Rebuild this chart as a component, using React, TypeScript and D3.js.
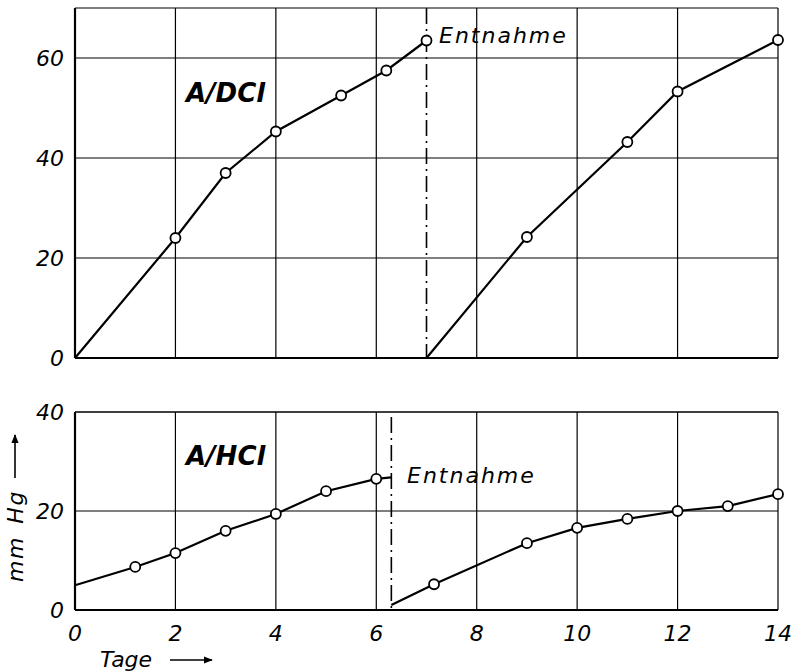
import React from "react";
import * as d3 from "d3";

// ---- data ----
const xTicks = [0, 2, 4, 6, 8, 10, 12, 14];
const topYTicks = [0, 20, 40, 60];
const botYTicks = [0, 20, 40];

// A/DCl (top panel)
const dclBeforeX = [0, 2, 3, 4, 5.3, 6.2, 7];
const dclBeforeY = [0, 24, 37, 45.3, 52.5, 57.5, 63.5];
const dclBeforeMarker = [false, true, true, true, true, true, true];
const dclAfterX = [7, 9, 11, 12, 14];
const dclAfterY = [0, 24.2, 43.2, 53.3, 63.6];
const dclAfterMarker = [false, true, true, true, true];
const dclWithdrawal = 7;

// A/HCl (bottom panel)
const hclBeforeX = [0, 1.2, 2, 3, 4, 5, 6, 6.3];
const hclBeforeY = [5, 8.7, 11.5, 16, 19.4, 24, 26.5, 26.8];
const hclBeforeMarker = [false, true, true, true, true, true, true, false];
const hclAfterX = [6.3, 7.15, 9, 10, 11, 12, 13, 14];
const hclAfterY = [1, 5.2, 13.5, 16.6, 18.4, 20, 21, 23.4];
const hclAfterMarker = [false, true, true, true, true, true, true, true];
const hclWithdrawal = 6.3;

const FONT = "'DejaVu Sans', 'Liberation Sans', sans-serif";

export default function App() {
  const W = 791, H = 672;
  const x = d3.scaleLinear().domain([0, 14]).range([75, 778]);
  const yTop = d3.scaleLinear().domain([0, 70]).range([358, 8]);
  const yBot = d3.scaleLinear().domain([0, 40]).range([610, 412]);

  const line = d3.line<[number, number]>().x((d) => d[0]).y((d) => d[1]);

  const series = (xs: number[], ys: number[], ms: boolean[], ys2: d3.ScaleLinear<number, number>, key: string) => {
    const pts: [number, number][] = xs.map((v, i) => [x(v), ys2(ys[i])]);
    return (
      <g key={key}>
        <path d={line(pts) || ""} fill="none" stroke="#000" strokeWidth={2.2} />
        {pts.map((p, i) =>
          ms[i] ? <circle key={i} cx={p[0]} cy={p[1]} r={5} fill="#fff" stroke="#000" strokeWidth={1.8} /> : null
        )}
      </g>
    );
  };

  const panel = (yS: d3.ScaleLinear<number, number>, yTicks: number[], key: string) => {
    const [y0, y1] = yS.range();
    const [, ymax] = yS.domain();
    return (
      <g key={key}>
        {xTicks.map((t) => (
          <line key={"v" + t} x1={x(t)} x2={x(t)} y1={y0} y2={y1} stroke="#000" strokeWidth={t === 0 ? 2.2 : 1.2} />
        ))}
        {yTicks.map((t) => (
          <line key={"h" + t} x1={x(0)} x2={x(14)} y1={yS(t)} y2={yS(t)} stroke="#000" strokeWidth={t === 0 ? 2.2 : 1.2} />
        ))}
        <line x1={x(0)} x2={x(14)} y1={yS(ymax)} y2={yS(ymax)} stroke="#000" strokeWidth={1.2} />
        {yTicks.map((t) => (
          <text key={"l" + t} x={64} y={yS(t)} dy="0.36em" textAnchor="end" fontFamily={FONT} fontStyle="italic" fontSize={22}>
            {t}
          </text>
        ))}
      </g>
    );
  };

  const dash = "16 5 2 5";

  return (
    <svg width={W} height={H} style={{ position: "absolute", left: 0, top: 0, background: "#fff" }}>
      <rect width={W} height={H} fill="#fff" />
      <defs>
        <marker id="arr" viewBox="0 0 10 10" refX="9" refY="5" markerWidth="9" markerHeight="9" markerUnits="userSpaceOnUse" orient="auto">
          <path d="M0,1 L10,5 L0,9 z" fill="#000" />
        </marker>
      </defs>

      {panel(yTop, topYTicks, "top")}
      {panel(yBot, botYTicks, "bot")}

      {/* withdrawal lines */}
      <line x1={x(dclWithdrawal)} x2={x(dclWithdrawal)} y1={yTop(70)} y2={yTop(0)} stroke="#000" strokeWidth={1.6} strokeDasharray={dash} />
      <line x1={x(hclWithdrawal)} x2={x(hclWithdrawal)} y1={yBot(39)} y2={yBot(0)} stroke="#000" strokeWidth={1.6} strokeDasharray={dash} />

      {series(dclBeforeX, dclBeforeY, dclBeforeMarker, yTop, "d1")}
      {series(dclAfterX, dclAfterY, dclAfterMarker, yTop, "d2")}
      {series(hclBeforeX, hclBeforeY, hclBeforeMarker, yBot, "h1")}
      {series(hclAfterX, hclAfterY, hclAfterMarker, yBot, "h2")}

      {/* labels */}
      <text x={186} y={102} fontFamily={FONT} fontStyle="italic" fontWeight="bold" fontSize={26}>A/DCl</text>
      <text x={186} y={465} fontFamily={FONT} fontStyle="italic" fontWeight="bold" fontSize={26}>A/HCl</text>
      <text x={439} y={43} fontFamily={FONT} fontStyle="italic" fontSize={22} letterSpacing={2}>Entnahme</text>
      <text x={407} y={483} fontFamily={FONT} fontStyle="italic" fontSize={22} letterSpacing={2}>Entnahme</text>

      {/* x tick labels */}
      {xTicks.map((t) => (
        <text key={"xt" + t} x={x(t)} y={633} dy="0.36em" textAnchor="middle" fontFamily={FONT} fontStyle="italic" fontSize={22}>
          {t}
        </text>
      ))}

      {/* axis titles */}
      <text x={100} y={667} fontFamily={FONT} fontStyle="italic" fontSize={22}>Tage</text>
      <line x1={170} x2={212} y1={660} y2={660} stroke="#000" strokeWidth={1.6} markerEnd="url(#arr)" />

      <text transform="translate(23,582) rotate(-90)" fontFamily={FONT} fontStyle="italic" fontSize={22} letterSpacing={1.5} wordSpacing={4}>mm Hg</text>
      <line x1={15} x2={15} y1={478} y2={435} stroke="#000" strokeWidth={1.6} markerEnd="url(#arr)" />
    </svg>
  );
}
